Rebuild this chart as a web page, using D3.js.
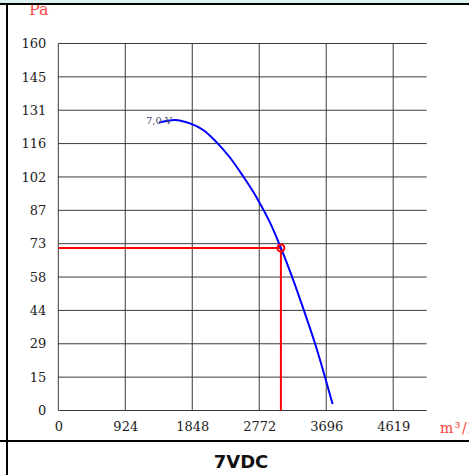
<!DOCTYPE html>
<html>
<head>
<meta charset="utf-8">
<script src="https://cdn.jsdelivr.net/npm/d3@7"></script>
<style>
  html, body { margin: 0; padding: 0; background: #ffffff; overflow: hidden; }
  svg { display: block; }
</style>
</head>
<body>
<svg id="chart" width="469" height="475"></svg>
<script>
// Fan performance curve at 7 VDC: static pressure (Pa) against air flow (m³/h)
const flowMax = 5081;
const pressureMax = 160;
const flowTickValues = [0, 923.8, 1847.6, 2771.4, 3695.2, 4619];
const flowTickLabels = ["0", "924", "1848", "2772", "3696", "4619"];
const pressureTickValues = d3.range(12).map(i => i * pressureMax / 11);
const pressureTickLabels = ["0", "15", "29", "44", "58", "73", "87", "102", "116", "131", "145", "160"];

// 7.0 V characteristic curve
const curveFlow =     [1388, 1609, 1816, 1999, 2184, 2367, 2551, 2735, 2919, 3070, 3218, 3378, 3540, 3677, 3783];
const curvePressure = [125.5, 126.7, 125.2, 122.3, 116.9, 110.3, 102.0, 92.9, 82.0, 70.85, 58.8, 44.5, 29.3, 14.7, 2.8];
const curveLabel = "7,0 V";

// Operating point
const opFlow = 3070;
const opPressure = 70.85;

const title = "7VDC";
const yUnit = "Pa";
const xUnit = "m³/h";

const svg = d3.select("#chart");

const x = d3.scaleLinear().domain([0, flowMax]).range([58.3, 426.7]);
const y = d3.scaleLinear().domain([0, pressureMax]).range([410.5, 43.5]);

const tickFont = "'DejaVu Serif', serif";

// Grid
const grid = svg.append("g");
grid.selectAll("line.h").data(pressureTickValues).join("line")
  .attr("x1", x(0)).attr("x2", x(flowMax))
  .attr("y1", d => y(d)).attr("y2", d => y(d))
  .attr("stroke", "#3a3a3a").attr("stroke-width", 1);
grid.selectAll("line.v").data(flowTickValues).join("line")
  .attr("x1", d => x(d)).attr("x2", d => x(d))
  .attr("y1", y(0)).attr("y2", y(pressureMax))
  .attr("stroke", "#3a3a3a").attr("stroke-width", 1);

// Tick labels
const yAxis = d3.axisLeft(y).tickValues(pressureTickValues)
  .tickFormat((d, i) => pressureTickLabels[i]).tickSize(0).tickPadding(12);
const gy = svg.append("g").attr("transform", `translate(${x(0)},0)`).call(yAxis);
gy.select(".domain").remove();
gy.selectAll("text").attr("font-family", tickFont).attr("font-size", 13).attr("fill", "#222");

const xAxis = d3.axisBottom(x).tickValues(flowTickValues)
  .tickFormat((d, i) => flowTickLabels[i]).tickSize(0).tickPadding(11);
const gx = svg.append("g").attr("transform", `translate(0,${y(0)})`).call(xAxis);
gx.select(".domain").remove();
gx.selectAll("text").attr("font-family", tickFont).attr("font-size", 13).attr("fill", "#222");

// Units
svg.append("text").attr("x", 29).attr("y", 15).text(yUnit)
  .attr("font-family", tickFont).attr("font-size", 16).attr("fill", "#ff4a4a");
svg.append("text").attr("x", 440).attr("y", 433).text(xUnit)
  .attr("font-family", tickFont).attr("font-size", 14).attr("letter-spacing", 1.5)
  .attr("fill", "#ff3b3b");

// Sheet frame
svg.append("rect").attr("x", 0).attr("y", 0).attr("width", 469).attr("height", 3).attr("fill", "#dcf0f0");
svg.append("line").attr("x1", 0).attr("x2", 469).attr("y1", 4).attr("y2", 4)
  .attr("stroke", "#000").attr("stroke-width", 2);
svg.append("line").attr("x1", 7).attr("x2", 7).attr("y1", 3).attr("y2", 475)
  .attr("stroke", "#000").attr("stroke-width", 2);
svg.append("line").attr("x1", 0).attr("x2", 469).attr("y1", 441).attr("y2", 441)
  .attr("stroke", "#000").attr("stroke-width", 2);

// Operating point guides
svg.append("line")
  .attr("x1", x(0)).attr("x2", x(opFlow)).attr("y1", y(opPressure)).attr("y2", y(opPressure))
  .attr("stroke", "#ff0000").attr("stroke-width", 2);
svg.append("line")
  .attr("x1", x(opFlow)).attr("x2", x(opFlow)).attr("y1", y(opPressure)).attr("y2", y(0))
  .attr("stroke", "#ff0000").attr("stroke-width", 2);

// Curve
const pts = curveFlow.map((f, i) => [f, curvePressure[i]]);
const line = d3.line().x(d => x(d[0])).y(d => y(d[1])).curve(d3.curveCatmullRom.alpha(0.5));
svg.append("path").datum(pts).attr("d", line)
  .attr("fill", "none").attr("stroke", "#0000ff").attr("stroke-width", 2);

svg.append("text").attr("x", x(curveFlow[0]) - 13).attr("y", y(curvePressure[0]) + 1)
  .text(curveLabel).attr("font-family", tickFont).attr("font-size", 10).attr("fill", "#4a4a6a");

svg.append("circle").attr("cx", x(opFlow)).attr("cy", y(opPressure)).attr("r", 3.5)
  .attr("fill", "none").attr("stroke", "#ff0000").attr("stroke-width", 2);

// Title
svg.append("text").attr("x", 241).attr("y", 468).attr("text-anchor", "middle")
  .text(title).attr("font-family", "'DejaVu Sans', sans-serif").attr("font-weight", "bold")
  .attr("font-size", 18).attr("fill", "#111");
</script>
</body>
</html>
